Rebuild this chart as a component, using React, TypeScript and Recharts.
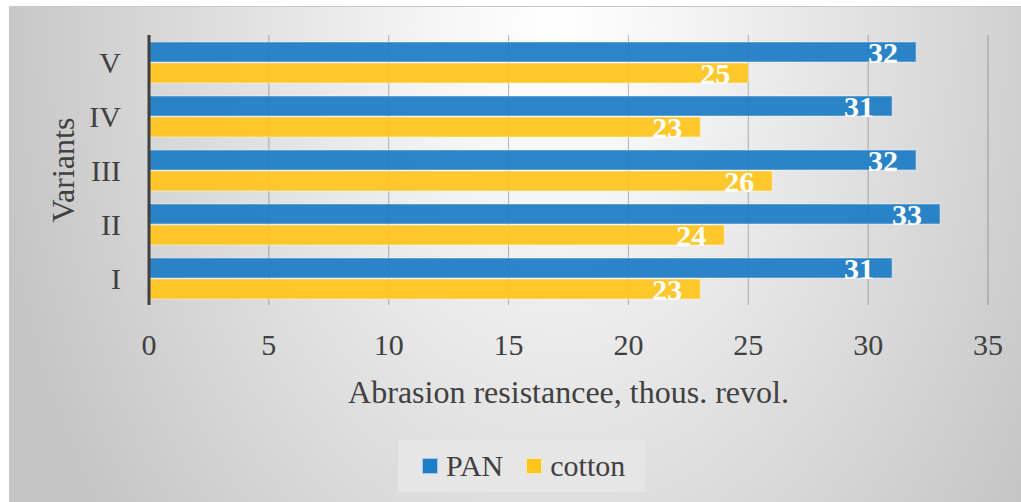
import React from 'react';
import { BarChart, Bar, XAxis, YAxis, CartesianGrid, Legend, LabelList, Label } from 'recharts';

const categories = ['V', 'IV', 'III', 'II', 'I'];
const panValues = [32, 31, 32, 33, 31];
const cottonValues = [25, 23, 26, 24, 23];
const xTicks = [0, 5, 10, 15, 20, 25, 30, 35];

const seriesNames = { pan: 'PAN', cotton: 'cotton' };
const FONT = '"Liberation Serif", "Times New Roman", serif';
const TEXT = '#404040';

const data = categories.map((name, i) => ({ name, pan: panValues[i], cotton: cottonValues[i] }));

const VariantsLabel = (props: any) => {
  const vb = props.viewBox || { x: 0, y: 0, width: 0, height: 0 };
  const x = vb.x + 65;
  const y = vb.y + vb.height / 2;
  return (
    <text
      x={x}
      y={y}
      transform={`rotate(-90 ${x} ${y})`}
      textAnchor="middle"
      fill={TEXT}
      fontSize={32}
      fontFamily={FONT}
    >
      Variants
    </text>
  );
};

const LegendContent = (props: any) => {
  const payload = props.payload || [];
  return (
    <div
      style={{
        display: 'flex',
        alignItems: 'center',
        height: '100%',
        paddingLeft: 24,
        boxSizing: 'border-box',
        fontFamily: FONT,
        fontSize: 30,
        color: TEXT,
      }}
    >
      {payload.map((p: any, i: number) => (
        <div key={i} style={{ display: 'flex', alignItems: 'center', marginRight: i === 0 ? 23 : 0 }}>
          <span
            style={{
              display: 'inline-block',
              width: 14,
              height: 14,
              background: p.color,
              border: '1px solid rgba(255,255,255,0.6)',
              marginRight: 8,
            }}
          />
          <span style={{ lineHeight: '30px' }}>{p.value}</span>
        </div>
      ))}
    </div>
  );
};

export default function App() {
  return (
    <div
      style={{
        position: 'absolute',
        left: 9,
        top: 6,
        width: 1012,
        height: 496,
        borderTop: '1px solid #c9c9c9',
        boxSizing: 'border-box',
        background:
          'radial-gradient(ellipse 570px 820px at 54% 4%, #ffffff 0%, #f6f6f6 20%, #c5c5c5 100%)',
        fontFamily: FONT,
      }}
    >
      <BarChart
        width={1012}
        height={495}
        data={data}
        layout="vertical"
        margin={{ top: 28, right: 33, left: 0, bottom: 0 }}
        barCategoryGap={7}
        barGap={1}
      >
        <CartesianGrid horizontal={false} vertical={true} stroke="#000" strokeOpacity={0.28} />
        <XAxis
          type="number"
          domain={[0, 35]}
          ticks={xTicks}
          interval={0}
          axisLine={false}
          tickLine={false}
          height={197}
          tickMargin={23}
          tick={{ fontSize: 30, fill: TEXT, fontFamily: FONT }}
        >
          <Label
            value="Abrasion resistancee, thous. revol."
            position="insideTop"
            offset={75}
            fill={TEXT}
            fontSize={32}
            fontFamily={FONT}
          />
        </XAxis>
        <YAxis
          type="category"
          dataKey="name"
          width={140}
          axisLine={{ stroke: '#404040', strokeWidth: 3 }}
          tickLine={false}
          tickMargin={22}
          tick={{ fontSize: 30, fill: TEXT, fontFamily: FONT }}
          label={<VariantsLabel />}
        />
        <Legend
          verticalAlign="middle"
          align="center"
          layout="horizontal"
          content={<LegendContent />}
          wrapperStyle={{ left: 389, top: 433, width: 247, height: 52, background: '#e6e6e6' }}
        />
        <Bar
          dataKey="pan"
          name={seriesNames.pan}
          fill="#1f7dc6"
          fillOpacity={0.94}
          stroke="rgba(255,255,255,0.45)"
          strokeWidth={1}
          isAnimationActive={false}
        >
          <LabelList
            dataKey="pan"
            position="insideRight"
            offset={18}
            fill="#ffffff"
            fontSize={30}
            fontWeight="bold"
            fontFamily={FONT}
          />
        </Bar>
        <Bar
          dataKey="cotton"
          name={seriesNames.cotton}
          fill="#ffc51f"
          fillOpacity={0.94}
          stroke="rgba(255,255,255,0.45)"
          strokeWidth={1}
          isAnimationActive={false}
        >
          <LabelList
            dataKey="cotton"
            position="insideRight"
            offset={18}
            fill="#ffffff"
            fontSize={30}
            fontWeight="bold"
            fontFamily={FONT}
          />
        </Bar>
      </BarChart>
    </div>
  );
}
